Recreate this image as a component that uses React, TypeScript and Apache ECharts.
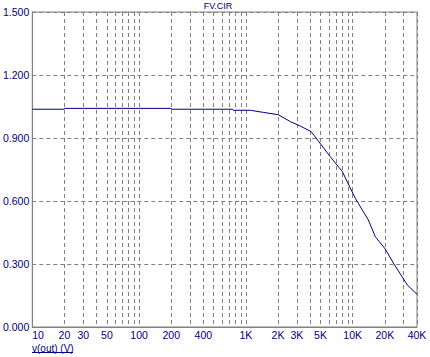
import React, { useEffect, useRef } from "react";
import * as echarts from "echarts";

const freq = [10, 19.9, 20, 200, 201, 750, 760, 1100, 1455, 2012, 2606, 3230, 4093, 6166, 8000, 10570, 13990, 16280, 20200, 23990, 32460, 40000];
const vout = [1.037, 1.037, 1.041, 1.041, 1.037, 1.037, 1.032, 1.032, 1.022, 1.011, 0.978, 0.957, 0.93, 0.811, 0.74, 0.613, 0.51, 0.43, 0.371, 0.305, 0.2, 0.156];
const gridTicks = [10, 20, 30, 40, 50, 60, 70, 80, 90, 100, 200, 300, 400, 500, 600, 700, 800, 900, 1000, 2000, 3000, 4000, 5000, 6000, 7000, 8000, 9000, 10000, 20000, 30000, 40000];
const labelTicks = [10, 20, 30, 50, 100, 200, 400, 1000, 2000, 3000, 5000, 10000, 20000, 40000];
const title = "FV.CIR";
const xName = "v(out) (V)";

const NAVY = "#000080";
const GRAY = "#808080";
const FONT = "Arial, 'Liberation Sans', sans-serif";

export default function App() {
  const ref = useRef<HTMLDivElement>(null);
  useEffect(() => {
    const chart = echarts.init(ref.current!, null, { renderer: "svg" });
    chart.setOption({
      animation: false,
      backgroundColor: "#ffffff",
      grid: { left: 32, right: 13, top: 12, bottom: 30, containLabel: false, show: true, borderColor: GRAY, borderWidth: 1, backgroundColor: "#fff" },
      xAxis: {
        type: "log",
        logBase: 10,
        min: 10,
        max: 40000,
        axisLine: { show: true, lineStyle: { color: GRAY, width: 1 } },
        axisTick: { show: false, customValues: gridTicks },
        splitLine: { show: true, lineStyle: { color: GRAY, type: [4, 3], width: 1 } },
        minorTick: { show: false },
        axisLabel: {
          customValues: labelTicks,
          color: NAVY,
          fontSize: 10.5,
          fontFamily: FONT,
          margin: 2,
          alignMinLabel: "left",
          showMinLabel: true,
          showMaxLabel: true,
          hideOverlap: false,
          formatter: (v: number) => {
            const r = Math.round(v);
            return r >= 1000 ? r / 1000 + "K" : String(r);
          },
        },
      },
      yAxis: {
        type: "value",
        min: 0,
        max: 1.5,
        interval: 0.3,
        axisLine: { show: true, lineStyle: { color: GRAY, width: 1 } },
        axisTick: { show: false },
        splitLine: { show: true, lineStyle: { color: GRAY, type: [4, 3], width: 1 } },
        axisLabel: {
          color: NAVY,
          fontSize: 10.5,
          fontFamily: FONT,
          margin: 3,
          formatter: (v: number) => v.toFixed(3),
        },
      },
      graphic: [
        {
          type: "text",
          x: 218,
          y: 1,
          style: { text: title, fill: NAVY, font: `9px ${FONT}`, align: "center", verticalAlign: "top" },
        },
        {
          type: "text",
          x: 32,
          y: 343,
          style: { text: xName, fill: NAVY, font: `10px ${FONT}`, verticalAlign: "top" },
        },
        {
          type: "line",
          shape: { x1: 32, y1: 352.5, x2: 73, y2: 352.5 },
          style: { stroke: NAVY, lineWidth: 1 },
        },
      ],
      series: [
        {
          type: "line",
          data: freq.map((f, i) => [f, vout[i]]),
          showSymbol: false,
          lineStyle: { color: NAVY, width: 1 },
          itemStyle: { color: NAVY },
        },
      ],
    });
    return () => chart.dispose();
  }, []);
  return <div ref={ref} style={{ width: 430, height: 357, position: "absolute", left: 0, top: 0 }} />;
}
